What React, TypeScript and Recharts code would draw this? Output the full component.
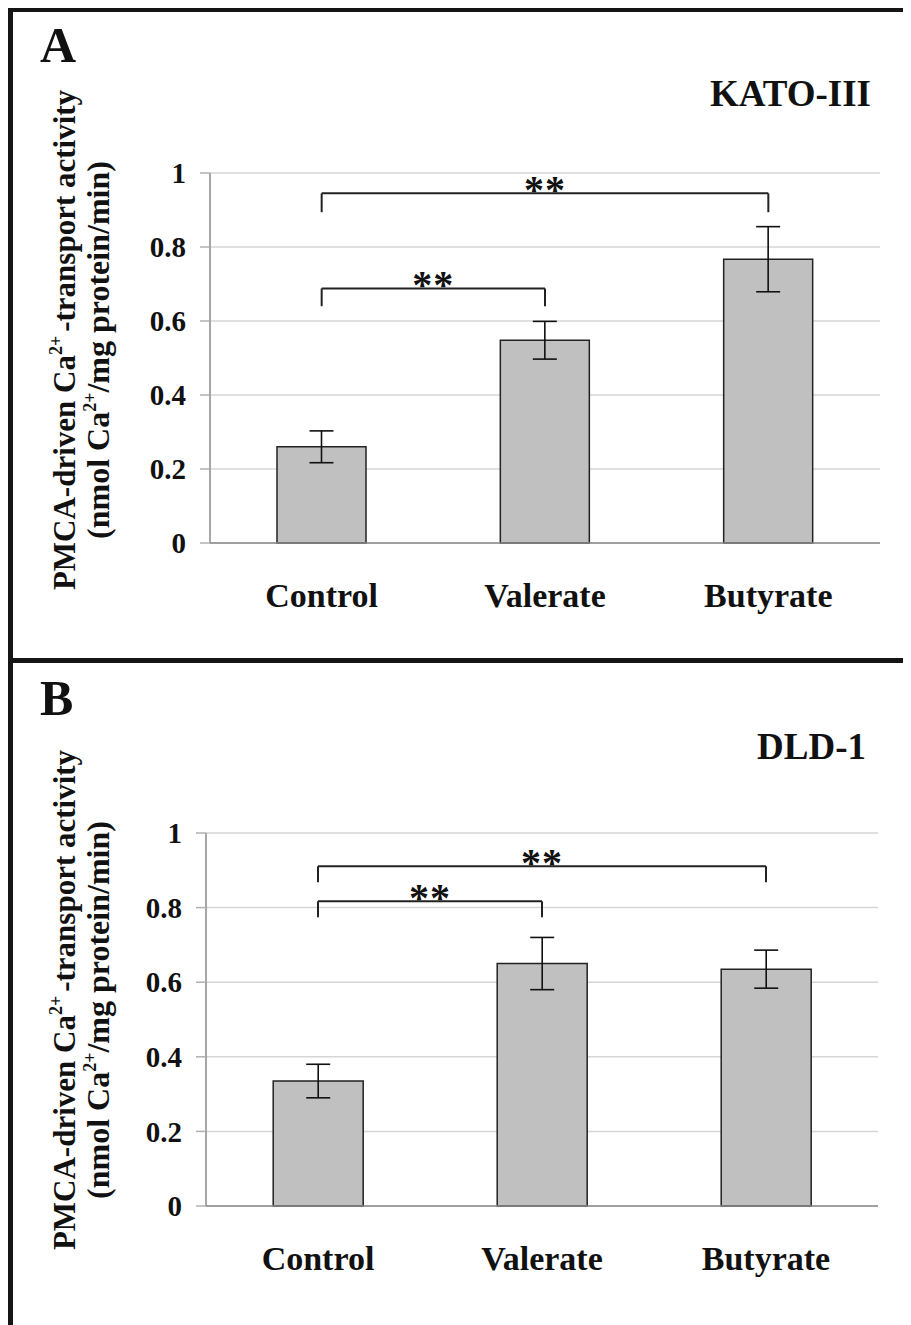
import React from 'react';
import {
  BarChart,
  Bar,
  XAxis,
  YAxis,
  CartesianGrid,
  ErrorBar,
  ReferenceLine,
  Customized,
} from 'recharts';

const FONT = '"Liberation Serif", "Times New Roman", Times, serif';

const categories = ['Control', 'Valerate', 'Butyrate'];
const yTicks = [0, 0.2, 0.4, 0.6, 0.8, 1];
const boundaryTicks = [0, 1, 2, 3];

const katoMeans = [0.26, 0.548, 0.767];
const katoErrors = [0.043, 0.051, 0.088];
const dldMeans = [0.335, 0.65, 0.635];
const dldErrors = [0.045, 0.07, 0.051];

const katoBrackets = [
  { from: 'Control', to: 'Butyrate', level: 0.945, foot: 0.894, mark: '**' },
  { from: 'Control', to: 'Valerate', level: 0.688, foot: 0.64, mark: '**' },
];
const dldBrackets = [
  { from: 'Control', to: 'Butyrate', level: 0.911, foot: 0.868, mark: '**' },
  { from: 'Control', to: 'Valerate', level: 0.817, foot: 0.774, mark: '**' },
];

const StarLabel = (props: any) => {
  const vb = props.viewBox || {};
  let cx: number;
  let cy: number;
  if (vb.x1 !== undefined) {
    cx = (vb.x1 + vb.x2) / 2;
    cy = Math.min(vb.y1, vb.y2);
  } else {
    cx = vb.x + (vb.width || 0) / 2;
    cy = vb.y;
  }
  return (
    <text
      x={cx}
      y={cy + 10}
      textAnchor="middle"
      fontFamily={FONT}
      fontWeight="bold"
      fontSize={40}
      letterSpacing={1}
      fill="#111"
    >
      {props.value}
    </text>
  );
};

const CatTick = (props: any) => (
  <text
    x={props.x}
    y={props.y + 64}
    textAnchor="middle"
    fontFamily={FONT}
    fontWeight="bold"
    fontSize={34}
    fill="#111"
  >
    {props.payload.value}
  </text>
);

const PanelText = (props: any) => {
  const { letter, title, titleRight, titleY, letterY, labelCy } = props;
  const line1X = 62;
  const line2X = 96;
  return (
    <g>
      <text x={27} y={letterY} fontFamily={FONT} fontWeight="bold" fontSize={50} fill="#111">
        {letter}
      </text>
      <text
        x={titleRight}
        y={titleY}
        textAnchor="end"
        fontFamily={FONT}
        fontWeight="bold"
        fontSize={37}
        fill="#111"
      >
        {title}
      </text>
      <text
        transform={`translate(${line1X},${labelCy}) rotate(-90)`}
        textAnchor="middle"
        fontFamily={FONT}
        fontWeight="bold"
        fontSize={31}
        fill="#111"
      >
        PMCA-driven Ca
        <tspan fontSize={18} dy={-13}>2+</tspan>
        <tspan dy={13} dx={4}>-transport activity</tspan>
      </text>
      <text
        transform={`translate(${line2X},${labelCy + 10}) rotate(-90)`}
        textAnchor="middle"
        fontFamily={FONT}
        fontWeight="bold"
        fontSize={32}
        fill="#111"
      >
        (nmol Ca
        <tspan fontSize={18} dy={-13}>2+</tspan>
        <tspan dy={13}>/mg protein/min)</tspan>
      </text>
    </g>
  );
};

type PanelProps = {
  letter: string;
  title: string;
  means: number[];
  errors: number[];
  brackets: { from: string; to: string; level: number; foot: number; mark: string }[];
  height: number;
  top: number;
  leftAxis: number;
  right: number;
  bottomAxis: number;
  titleRight: number;
  titleY: number;
  letterY: number;
  labelCy: number;
};

const Panel = (p: PanelProps) => {
  const data = categories.map((c, i) => ({ name: c, mean: p.means[i], err: p.errors[i] }));
  const lines: React.ReactNode[] = [];
  p.brackets.forEach((b, i) => {
    lines.push(
      <ReferenceLine
        key={`h${i}`}
        xAxisId="cat"
        yAxisId="left"
        segment={[
          { x: b.from, y: b.level },
          { x: b.to, y: b.level },
        ]}
        stroke="#222"
        strokeWidth={2}
        ifOverflow="visible"
        label={<StarLabel value={b.mark} />}
      />
    );
    lines.push(
      <ReferenceLine
        key={`a${i}`}
        xAxisId="cat"
        yAxisId="left"
        segment={[
          { x: b.from, y: b.level },
          { x: b.from, y: b.foot },
        ]}
        stroke="#222"
        strokeWidth={2}
        ifOverflow="visible"
      />
    );
    lines.push(
      <ReferenceLine
        key={`b${i}`}
        xAxisId="cat"
        yAxisId="left"
        segment={[
          { x: b.to, y: b.level },
          { x: b.to, y: b.foot },
        ]}
        stroke="#222"
        strokeWidth={2}
        ifOverflow="visible"
      />
    );
  });
  return (
    <BarChart
      width={898}
      height={p.height}
      data={data}
      margin={{ top: p.top, right: p.right, bottom: 0, left: 0 }}
      barCategoryGap="30%"
    >
      <CartesianGrid vertical={false} stroke="#d6d6d6" strokeWidth={1.5} xAxisId="cat" yAxisId="left" />
      <XAxis
        xAxisId="bnd"
        type="number"
        domain={[0, 3]}
        ticks={boundaryTicks}
        interval={0}
        tick={false}
        tickSize={9}
        height={0}
        axisLine={false}
        tickLine={{ stroke: '#b0b0b0', strokeWidth: 1.5 }}
      />
      <XAxis
        xAxisId="cat"
        dataKey="name"
        height={p.bottomAxis}
        tickLine={false}
        tickSize={0}
        tickMargin={0}
        interval={0}
        axisLine={{ stroke: '#8a8a8a', strokeWidth: 1.5 }}
        tick={<CatTick />}
      />
      <XAxis
        xAxisId="top"
        orientation="top"
        type="number"
        domain={[0, 1]}
        height={0}
        tick={false}
        tickLine={false}
        axisLine={{ stroke: '#8a8a8a', strokeWidth: 2 }}
      />
      <YAxis
        yAxisId="left"
        domain={[0, 1]}
        ticks={yTicks}
        interval={0}
        width={p.leftAxis}
        tickSize={10}
        tickMargin={14}
        axisLine={{ stroke: '#8a8a8a', strokeWidth: 1.5 }}
        tickLine={{ stroke: '#b0b0b0', strokeWidth: 1.5 }}
        tick={{ fontFamily: FONT, fontWeight: 'bold', fontSize: 29, fill: '#111' }}
      />
      <YAxis
        yAxisId="right"
        orientation="right"
        domain={[0, 1]}
        width={0}
        tick={false}
        tickLine={false}
        axisLine={{ stroke: '#8a8a8a', strokeWidth: 1.5 }}
      />
      <Bar
        xAxisId="cat"
        yAxisId="left"
        dataKey="mean"
        fill="#c0c0c0"
        stroke="#222"
        strokeWidth={1.5}
        isAnimationActive={false}
      >
        <ErrorBar dataKey="err" width={12} stroke="#111" strokeWidth={1.6} isAnimationActive={false} />
      </Bar>
      {lines}
      <Customized
        component={
          <PanelText
            letter={p.letter}
            title={p.title}
            titleRight={p.titleRight}
            titleY={p.titleY}
            letterY={p.letterY}
            labelCy={p.labelCy}
          />
        }
      />
    </BarChart>
  );
};

export default function App() {
  return (
    <div
      style={{
        width: 903,
        borderTop: '4px solid #151515',
        borderLeft: '5px solid #151515',
        boxSizing: 'border-box',
        background: '#fff',
      }}
    >
      <div style={{ height: 646, overflow: 'hidden' }}>
        <Panel
          letter="A"
          title="KATO-III"
          means={katoMeans}
          errors={katoErrors}
          brackets={katoBrackets}
          height={646}
          top={161}
          leftAxis={197}
          right={31}
          bottomAxis={115}
          titleRight={858}
          titleY={94}
          letterY={50}
          labelCy={328}
        />
      </div>
      <div style={{ height: 662, borderTop: '5px solid #151515', overflow: 'hidden' }}>
        <Panel
          letter="B"
          title="DLD-1"
          means={dldMeans}
          errors={dldErrors}
          brackets={dldBrackets}
          height={662}
          top={170}
          leftAxis={193}
          right={33}
          bottomAxis={119}
          titleRight={853}
          titleY={96}
          letterY={52}
          labelCy={337}
        />
      </div>
    </div>
  );
}
